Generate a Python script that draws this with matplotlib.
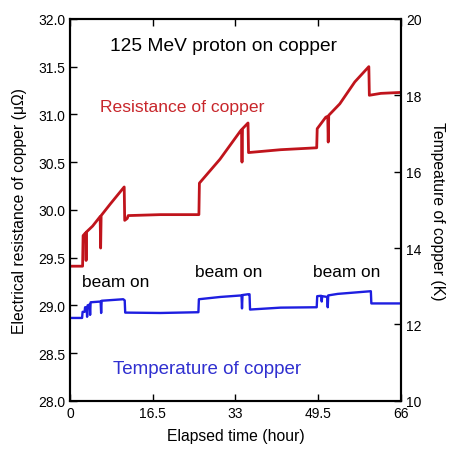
import matplotlib.pyplot as plt

plt.rcParams['font.family'] = ['Liberation Sans', 'DejaVu Sans']

# elapsed time (hour) and resistance of copper (micro ohm)
t_res = [0, 2.5, 2.6, 3.1, 3.2, 3.3, 4.5, 6.0, 6.1, 6.2, 8.0, 10.8, 10.9, 11.4,
         11.6, 18.0, 25.7, 25.8, 29.9, 33.9, 34.2, 34.3, 34.4, 35.5, 35.6, 42.0,
         49.2, 49.3, 51.0, 51.4, 51.5, 51.6, 53.8, 56.8, 59.6, 59.7, 62.0, 66.0]
r_res = [29.41, 29.41, 29.73, 29.76, 29.47, 29.77, 29.83, 29.93, 29.60, 29.94,
         30.06, 30.24, 29.89, 29.91, 29.94, 29.95, 29.95, 30.28, 30.53, 30.82,
         30.84, 30.50, 30.85, 30.91, 30.60, 30.63, 30.65, 30.85, 30.97, 30.98,
         30.71, 30.99, 31.11, 31.34, 31.50, 31.20, 31.22, 31.23]

# elapsed time (hour) and temperature of copper (K)
t_temp = [0, 2.4, 2.5, 2.9, 3.0, 3.3, 3.4, 3.5, 3.9, 4.0, 4.1, 6.1, 6.2, 6.3,
          10.6, 10.9, 11.0, 18.0, 25.6, 25.7, 30.0, 34.2, 34.3, 34.4, 35.5,
          35.8, 35.9, 42.0, 49.2, 49.3, 50.1, 50.2, 50.3, 51.3, 51.4, 51.5,
          53.4, 60.0, 60.1, 66.0]
temp = [12.17, 12.17, 12.33, 12.33, 12.45, 12.45, 12.20, 12.50, 12.52, 12.25,
        12.58, 12.60, 12.30, 12.62, 12.66, 12.63, 12.31, 12.30, 12.32, 12.66,
        12.72, 12.76, 12.42, 12.77, 12.79, 12.79, 12.39, 12.44, 12.45, 12.74,
        12.75, 12.60, 12.74, 12.72, 12.45, 12.76, 12.80, 12.87, 12.55, 12.55]

x_ticks = [0, 16.5, 33, 49.5, 66]
x_labels = ['0', '16.5', '33', '49.5', '66']
r_ticks = [28.0, 28.5, 29.0, 29.5, 30.0, 30.5, 31.0, 31.5, 32.0]
t_ticks = [10, 12, 14, 16, 18, 20]

red = '#c0141c'
blue = '#1e1ee0'

fig = plt.figure(figsize=(4.52, 4.52), dpi=100)
ax = fig.add_axes([0.155, 0.111, 0.732, 0.845])
ax2 = ax.twinx()

ax.plot(t_res, r_res, color=red, lw=2.0)
ax2.plot(t_temp, temp, color=blue, lw=1.7)

ax.set_xlim(0, 66)
ax.set_ylim(28, 32)
ax2.set_ylim(10, 20)

ax.set_xticks(x_ticks)
ax.set_xticklabels(x_labels)
ax.set_yticks(r_ticks)
ax.set_yticklabels(['%.1f' % v for v in r_ticks])
ax2.set_yticks(t_ticks)

ax.tick_params(axis='x', direction='in', top=True, length=5, width=1, labelsize=10)
ax.tick_params(axis='y', direction='in', length=5, width=1, labelsize=10)
ax2.tick_params(axis='y', direction='in', length=5, width=1, labelsize=10)

for a in (ax, ax2):
    for s in a.spines.values():
        s.set_linewidth(1.5)

ax.set_xlabel('Elapsed time (hour)', fontsize=11.3, labelpad=6)
ax.set_ylabel('Electrical resistance of copper (\u03bc\u03a9)', fontsize=11.3, labelpad=8)
ax2.set_ylabel('Tempeature of copper (K)', fontsize=11.3, rotation=270, labelpad=17)

ax.text(30.7, 31.72, '125 MeV proton on copper', fontsize=13.8, ha='center', va='center')
ax.text(22.3, 31.08, 'Resistance of copper', fontsize=12.6, color='#c8262b', ha='center', va='center')
ax.text(27.3, 28.34, 'Temperature of copper', fontsize=13.5, color='#3030d0', ha='center', va='center')
for bx, by in [(9.2, 29.25), (31.7, 29.35), (55.2, 29.35)]:
    ax.text(bx, by, 'beam on', fontsize=12.4, ha='center', va='center')

fig.savefig('out.png', dpi=100)
